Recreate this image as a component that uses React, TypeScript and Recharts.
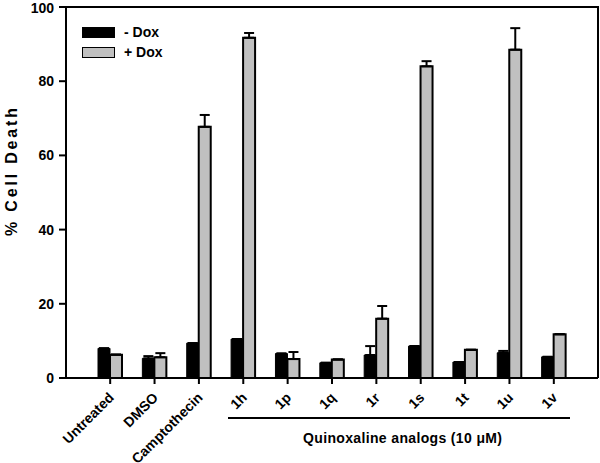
import { BarChart, Bar, XAxis, YAxis, ErrorBar, Legend } from 'recharts';

const categories = ['Untreated', 'DMSO', 'Camptothecin', '1h', '1p', '1q', '1r', '1s', '1t', '1u', '1v'];
const minusDox = [8.0, 5.3, 9.4, 10.5, 6.6, 4.1, 6.2, 8.6, 4.3, 6.8, 5.7];
const minusDoxErr = [0, 0.6, 0, 0, 0, 0, 2.4, 0, 0, 0.5, 0];
const plusDox = [6.3, 5.6, 67.7, 91.7, 5.1, 5.0, 16.0, 84.0, 7.6, 88.5, 11.8];
const plusDoxErr = [0, 1.1, 3.2, 1.3, 1.9, 0, 3.4, 1.4, 0, 5.8, 0];
const yTicks = [0, 20, 40, 60, 80, 100];

const data = categories.map((name, i) => ({
  name,
  minus: minusDox[i],
  minusErr: [0, minusDoxErr[i]],
  plus: plusDox[i],
  plusErr: [0, plusDoxErr[i]]
}));

const FONT = '"Liberation Sans", Arial, sans-serif';

// rotated category labels, end of text sits just under the tick
const XTick = ({ x, y, payload }: any) => (
  <text
    x={x + 1}
    y={y + 9}
    transform={`rotate(-45 ${x + 1} ${y + 9})`}
    textAnchor="end"
    dominantBaseline="central"
    fontSize={14}
    fontWeight="bold"
    fontFamily={FONT}
    fill="#000"
  >
    {payload.value}
  </text>
);

const LegendBox = () => (
  <div style={{ fontFamily: FONT, fontWeight: 'bold', fontSize: 14, lineHeight: '20px' }}>
    {[
      { label: '- Dox', fill: '#000' },
      { label: '+ Dox', fill: '#c0c0c0' }
    ].map((it) => (
      <div key={it.label} style={{ display: 'flex', alignItems: 'center' }}>
        <span
          style={{
            display: 'inline-block',
            width: 31,
            height: 9,
            background: it.fill,
            border: '1.5px solid #000',
            marginRight: 9
          }}
        />
        {it.label}
      </div>
    ))}
  </div>
);

export default function App() {
  return (
    <div style={{ position: 'relative', width: 600, height: 463, background: '#fff' }}>
      <style>{'body{margin:0}'}</style>
      <BarChart
        width={600}
        height={463}
        data={data}
        margin={{ top: 7, right: 2, bottom: 0, left: 0 }}
        barGap={0}
        barSize={12}
      >
        <XAxis
          dataKey="name"
          interval={0}
          padding={{ left: 22, right: 22 }}
          tick={<XTick />}
          tickLine={{ stroke: '#000', strokeWidth: 2 }}
          axisLine={{ stroke: '#000', strokeWidth: 2 }}
          tickSize={6}
          height={85}
        />
        <YAxis
          domain={[0, 100]}
          ticks={yTicks}
          width={66}
          tickLine={{ stroke: '#000', strokeWidth: 2 }}
          axisLine={{ stroke: '#000', strokeWidth: 2 }}
          tick={{ fill: '#000', fontSize: 14, fontWeight: 'bold', fontFamily: FONT }}
          tickSize={7}
          tickMargin={5}
        />
        <Legend
          content={<LegendBox />}
          layout="horizontal"
          verticalAlign="middle"
          align="center"
          wrapperStyle={{ top: 22, left: 82, width: 'auto' }}
        />
        <Bar dataKey="minus" name="- Dox" fill="#000" stroke="#000" strokeWidth={1} isAnimationActive={false}>
          <ErrorBar dataKey="minusErr" direction="y" width={5} stroke="#000" strokeWidth={2} />
        </Bar>
        <Bar dataKey="plus" name="+ Dox" fill="#c0c0c0" stroke="#000" strokeWidth={2} isAnimationActive={false}>
          <ErrorBar dataKey="plusErr" direction="y" width={5} stroke="#000" strokeWidth={2} />
        </Bar>
      </BarChart>
      <svg width={600} height={463} style={{ position: 'absolute', left: 0, top: 0, pointerEvents: 'none' }}>
        <polyline points="66,7 598,7 598,378" fill="none" stroke="#000" strokeWidth={2} />
        <text
          x={17}
          y={172}
          transform="rotate(-90 17 172)"
          textAnchor="middle"
          fontSize={16}
          fontWeight="bold"
          fontFamily={FONT}
          textLength={128}
          lengthAdjust="spacing"
          fill="#000"
        >
          % Cell Death
        </text>
        <line x1={228} x2={570} y1={418} y2={418} stroke="#000" strokeWidth={2} />
        <text x={303} y={443} fontSize={14} fontWeight="bold" fontFamily={FONT} textLength={199} lengthAdjust="spacing" fill="#000">
          Quinoxaline analogs (10 μM)
        </text>
      </svg>
    </div>
  );
}
